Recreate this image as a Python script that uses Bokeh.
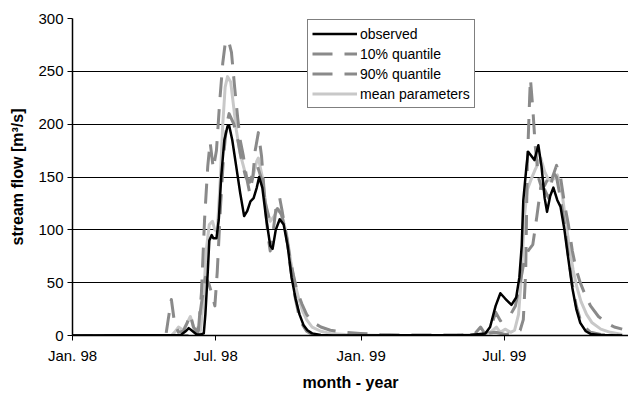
import pandas as pd
from bokeh.plotting import figure
from bokeh.models import Range1d, FixedTicker, Legend, LegendItem
from bokeh.embed import file_html
from bokeh.resources import INLINE

# ---- data (days since 1 Jan 1998, stream flow m3/s) ----
start_date = "1998-01-01"
end_date = "1999-12-05"
tick_dates = ["1998-01-01", "1998-07-01", "1999-01-01", "1999-07-01"]
tick_labels = ["Jan. 98", "Jul. 98", "Jan. 99", "Jul. 99"]
y_ticks = [0, 50, 100, 150, 200, 250, 300]

observed_days = [0, 137, 143, 147, 152, 157, 162, 166, 168, 171, 173, 176, 178, 182, 185, 188, 192, 196, 198,
                 202, 207, 212, 217, 221, 225, 229, 233, 236, 240, 245, 250, 253, 257, 262, 267, 272, 277,
                 282, 287, 292, 297, 303, 314, 330, 503, 522, 528, 535, 541, 547, 555, 561, 565, 568, 570,
                 574, 576, 580, 584, 589, 593, 597, 600, 604, 608, 613, 617, 622, 627, 632, 637, 642, 649,
                 655, 668, 695]
observed = [0, 0.5, 4, 7, 4, 1, 1, 2, 20, 60, 90, 95, 92, 92, 110, 150, 185, 198, 199,
            185, 160, 135, 113, 118, 127, 130, 140, 150, 140, 110, 85, 82, 100, 110, 105, 85, 55,
            35, 20, 10, 5, 2, 0.5, 0, 0.5, 2, 8, 28, 40, 35, 29, 36, 55, 85, 128,
            160, 174, 170, 166, 180, 160, 130, 117, 132, 140, 128, 122, 100, 72, 45, 25, 12, 4,
            1.5, 0.5, 0]

q10_days = [0, 155, 159, 163, 167, 171, 174, 178, 182, 186, 190, 193, 197, 201, 205, 209, 212, 216, 220,
            224, 228, 231, 235, 239, 243, 247, 250, 254, 258, 262, 265, 271, 276, 281, 286, 291, 296,
            303, 314, 465, 503, 522, 535, 547, 560, 566, 570, 573, 575, 578, 579, 582, 585, 589, 593,
            597, 602, 607, 612, 617, 622, 627, 632, 637, 642, 649, 655, 668, 695]
q10 = [0, 0, 3, 40, 110, 160, 183, 158, 175, 220, 258, 276, 280, 268, 235, 205, 185, 170, 150,
       135, 150, 175, 192, 170, 130, 95, 80, 100, 125, 130, 118, 92, 62, 38, 20, 10, 4,
       1, 0, 0, 0.5, 2, 3, 1, 2, 5, 15, 60, 160, 225, 243, 215, 180, 150, 140,
       142, 150, 155, 150, 130, 105, 75, 48, 28, 15, 7, 3, 1, 0]

q90_days = [0, 118, 121, 125, 129, 134, 140, 145, 149, 153, 158, 163, 168, 172, 176, 180, 183, 187, 191,
            195, 198, 204, 209, 214, 219, 224, 229, 234, 239, 244, 249, 254, 259, 264, 269, 274, 279,
            284, 290, 296, 303, 314, 326, 345, 364, 389, 415, 491, 509, 516, 521, 528, 535, 541, 547,
            554, 560, 566, 571, 576, 582, 587, 592, 597, 602, 607, 612, 617, 622, 627, 632, 637, 642,
            649, 655, 665, 675, 685, 695]
q90 = [0, 0, 15, 34, 12, 3, 4, 12, 20, 8, 3, 30, 55, 50, 40, 28, 60, 120, 170,
       200, 210, 200, 185, 165, 150, 145, 155, 160, 148, 125, 110, 115, 120, 115, 100, 78, 58,
       42, 30, 20, 13, 8, 5, 3, 2, 1, 0.5, 0.5, 2, 8, 2, 5, 22, 14, 17,
       20, 28, 50, 70, 80, 86, 112, 140, 138, 130, 150, 161, 150, 125, 105, 80, 62, 50,
       37, 28, 18, 12, 8, 6]

mean_days = [0, 125, 129, 134, 140, 145, 149, 153, 157, 159, 162, 166, 169, 173, 177, 180, 183, 187, 190,
             193, 196, 200, 204, 207, 212, 219, 222, 228, 233, 235, 240, 245, 250, 255, 260, 265, 271,
             276, 281, 286, 291, 296, 303, 314, 326, 345, 364, 400, 500, 516, 528, 536, 541, 547, 554,
             559, 564, 568, 571, 575, 580, 585, 592, 597, 602, 608, 613, 618, 623, 628, 633, 638, 643,
             650, 657, 668, 680, 695]
mean_params = [0, 0, 3, 8, 5, 12, 18, 8, 1, 0, 5, 40, 80, 105, 108, 100, 98, 150, 200,
               235, 245, 240, 215, 195, 172, 152, 147, 150, 165, 168, 150, 120, 108, 113, 120, 113, 95,
               70, 50, 35, 23, 15, 8, 4, 2, 1, 0.5, 0, 0, 1, 3, 8, 3, 6, 3,
               5, 20, 60, 110, 138, 148, 157, 168, 155, 147, 148, 152, 140, 112, 85, 62, 45, 32,
               20, 12, 6, 3, 1]

# ---- figure ----
t0 = pd.Timestamp(start_date)
x_end = (pd.Timestamp(end_date) - t0).days
tick_pos = [(pd.Timestamp(d) - t0).days for d in tick_dates]

FONT = "Liberation Sans"
p = figure(width=628, height=393, output_backend="svg", toolbar_location=None,
           x_range=Range1d(0, x_end), y_range=Range1d(0, 300),
           min_border_left=72, min_border_right=0, min_border_top=18, min_border_bottom=57)
p.outline_line_color = None
p.background_fill_color = "white"
p.border_fill_color = "white"

p.xgrid.grid_line_color = None
p.ygrid.grid_line_color = "black"
p.ygrid.grid_line_width = 1
p.ygrid.ticker = FixedTicker(ticks=y_ticks)

p.yaxis.ticker = FixedTicker(ticks=y_ticks)
p.xaxis.ticker = FixedTicker(ticks=tick_pos)
p.xaxis.major_label_overrides = {pos: lab for pos, lab in zip(tick_pos, tick_labels)}

for ax in (p.xaxis[0], p.yaxis[0]):
    ax.axis_line_color = "black"
    ax.axis_line_width = 1.5
    ax.major_tick_line_color = "black"
    ax.major_tick_out = 5
    ax.major_tick_in = 0
    ax.minor_tick_line_color = None
    ax.major_label_text_font = FONT
    ax.major_label_text_font_size = "15px"
    ax.major_label_text_color = "black"
    ax.axis_label_text_font = FONT
    ax.axis_label_text_font_size = "16px"
    ax.axis_label_text_font_style = "bold"
    ax.axis_label_text_color = "black"

p.xaxis.axis_label = "month - year"
p.yaxis.axis_label = "stream flow [m³/s]"
p.xaxis.major_label_standoff = 6
p.xaxis.axis_label_standoff = 7
p.yaxis.major_label_standoff = 4
p.yaxis.axis_label_standoff = 9

r_mean = p.line(mean_days, mean_params, line_color="#c8c8c8", line_width=3, line_join="round")
r_q90 = p.line(q90_days, q90, line_color="#8a8a8a", line_width=3, line_dash="20 12", line_join="round")
r_q10 = p.line(q10_days, q10, line_color="#8a8a8a", line_width=3, line_dash="20 12", line_join="round")
r_obs = p.line(observed_days, observed, line_color="black", line_width=2.5, line_join="round")

legend = Legend(items=[
    LegendItem(label="observed", renderers=[r_obs]),
    LegendItem(label="10% quantile", renderers=[r_q10]),
    LegendItem(label="90% quantile", renderers=[r_q90]),
    LegendItem(label="mean parameters", renderers=[r_mean]),
], location=(235, 227))
legend.label_text_font = FONT
legend.label_text_font_size = "14px"
legend.label_text_color = "black"
legend.glyph_width = 45
legend.glyph_height = 19
legend.label_height = 19
legend.label_standoff = 3
legend.spacing = 1
legend.padding = 4
legend.margin = 0
legend.border_line_color = "black"
legend.border_line_width = 1
legend.background_fill_color = "white"
legend.background_fill_alpha = 1
p.add_layout(legend, "center")

open("out.html", "w").write(file_html(p, INLINE))
